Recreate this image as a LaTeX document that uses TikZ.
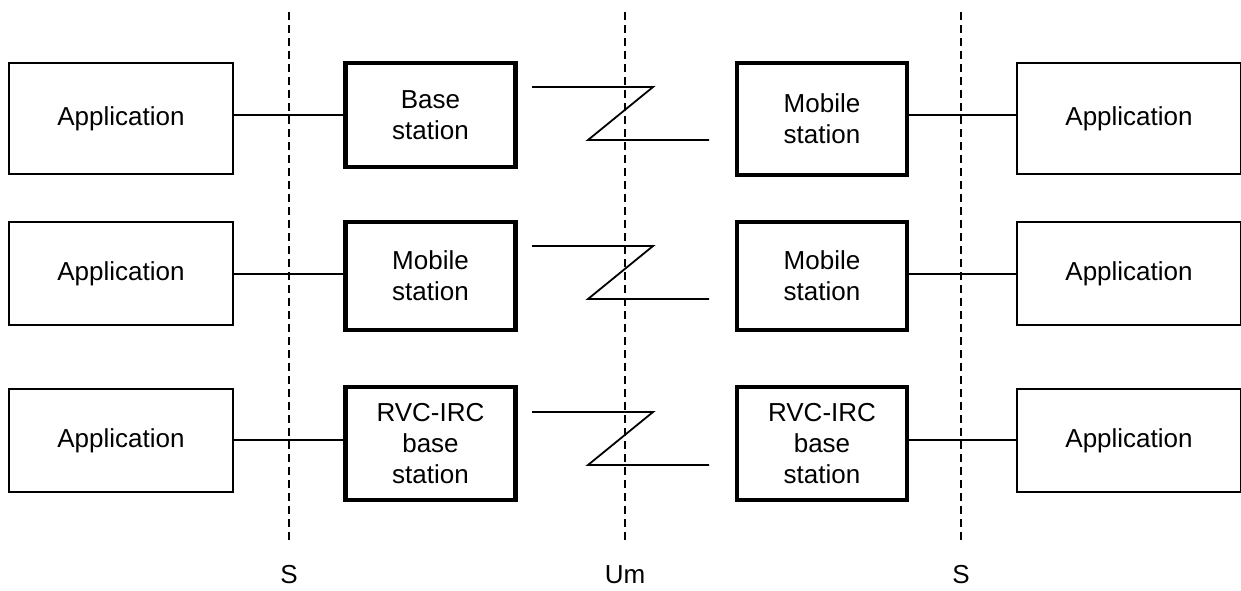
\documentclass[tikz,border=0pt]{standalone}
\usepackage{fontspec}
\setmainfont{Liberation Sans}
\begin{document}
\begin{tikzpicture}[x=1pt,y=-1pt,
  txt/.style={font=\fontsize{26}{31}\selectfont, align=center},
  appbox/.style={draw, line width=1.8pt, rectangle, inner sep=0pt, minimum width=224pt, txt},
  stbox/.style={draw, line width=4.5pt, rectangle, inner sep=0pt, minimum width=170pt, txt},
  conn/.style={line width=1.8pt},
  divider/.style={line width=1.8pt, dash pattern=on 8pt off 5pt},
  lbl/.style={txt, inner sep=0pt}]
\useasboundingbox (0,0) rectangle (1241,590);
% dividers
\coordinate (s1t) at (289,12); \coordinate (s1b) at (289,543);
\coordinate (umt) at (625,12); \coordinate (umb) at (625,543);
\coordinate (s2t) at (961,12); \coordinate (s2b) at (961,543);
\draw[divider] (s1t) -- (s1b);
\draw[divider] (umt) -- (umb);
\draw[divider] (s2t) -- (s2b);
\node[lbl] (ls1) at (289,575) {S};
\node[lbl] (lum) at (625,575) {Um};
\node[lbl] (ls2) at (961,575) {S};
% row 1
\node[appbox, minimum height=111pt] (a1l) at (121,118.5) {Application};
\node[stbox, minimum height=104pt] (b1l) at (430.5,115) {Base\\station};
\node[stbox, minimum height=112pt] (b1r) at (822,119) {Mobile\\station};
\node[appbox, minimum height=111pt] (a1r) at (1129,118.5) {Application};
\coordinate (r1) at (0,115);
\draw[conn] (a1l.east|-r1) -- (b1l.west|-r1);
\draw[conn] (b1r.east|-r1) -- (a1r.west|-r1);
\coordinate (z1a) at (532,87); \coordinate (z1b) at (653,87);
\coordinate (z1c) at (588,140); \coordinate (z1d) at (709,140);
\draw[conn, line join=miter] (z1a) -- (z1b) -- (z1c) -- (z1d);
% row 2
\node[appbox, minimum height=103pt] (a2l) at (121,273.5) {Application};
\node[stbox, minimum height=108pt] (b2l) at (430.5,276) {Mobile\\station};
\node[stbox, minimum height=108pt] (b2r) at (822,276) {Mobile\\station};
\node[appbox, minimum height=103pt] (a2r) at (1129,273.5) {Application};
\coordinate (r2) at (0,274);
\draw[conn] (a2l.east|-r2) -- (b2l.west|-r2);
\draw[conn] (b2r.east|-r2) -- (a2r.west|-r2);
\coordinate (z2a) at (532,246); \coordinate (z2b) at (653,246);
\coordinate (z2c) at (588,299); \coordinate (z2d) at (709,299);
\draw[conn, line join=miter] (z2a) -- (z2b) -- (z2c) -- (z2d);
% row 3
\node[appbox, minimum height=103pt] (a3l) at (121,440.5) {Application};
\node[stbox, minimum height=113pt] (b3l) at (430.5,443.5) {RVC-IRC\\base\\station};
\node[stbox, minimum height=113pt] (b3r) at (822,443.5) {RVC-IRC\\base\\station};
\node[appbox, minimum height=103pt] (a3r) at (1129,440.5) {Application};
\coordinate (r3) at (0,440);
\draw[conn] (a3l.east|-r3) -- (b3l.west|-r3);
\draw[conn] (b3r.east|-r3) -- (a3r.west|-r3);
\coordinate (z3a) at (532,412); \coordinate (z3b) at (653,412);
\coordinate (z3c) at (588,465); \coordinate (z3d) at (709,465);
\draw[conn, line join=miter] (z3a) -- (z3b) -- (z3c) -- (z3d);
\end{tikzpicture}
\end{document}
